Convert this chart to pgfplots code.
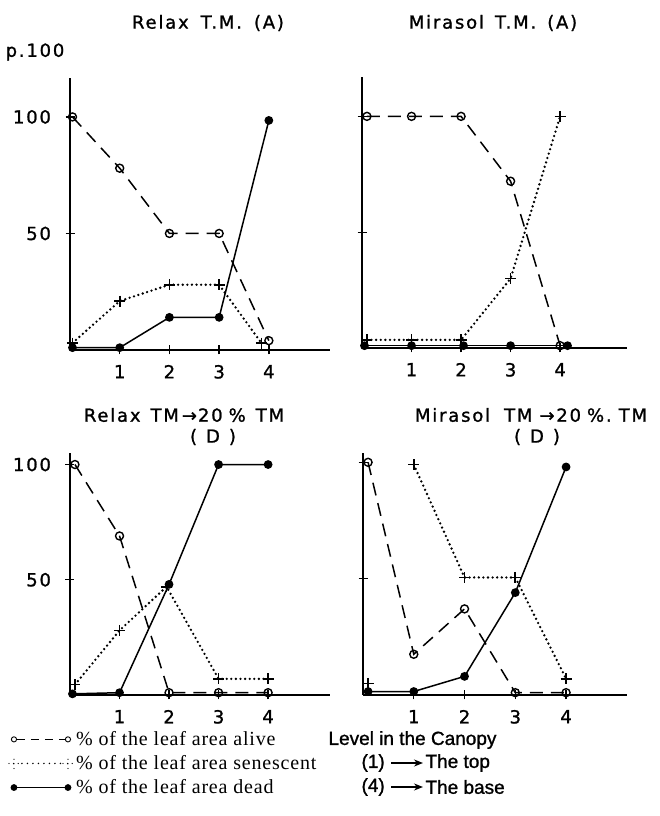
\documentclass[border=0pt]{standalone}
\usepackage{pgfplots}
\pgfplotsset{compat=1.18}
\usetikzlibrary{arrows.meta}
\usepackage{fontspec}
\setmainfont{Liberation Serif}
\newfontfamily\dvLS[LetterSpace=10, FakeBold=1.2]{DejaVu Sans}
\newfontfamily\sfN[FakeBold=1.2]{Liberation Sans}
\newfontfamily\serLS[LetterSpace=4]{Liberation Serif}
\newcommand{\tickfont}{\dvLS\fontsize{18}{21}\selectfont}
\newcommand{\titfont}{\dvLS\fontsize{18}{21}\selectfont}
\newcommand{\rfont}{\sfN\fontsize{19}{22}\selectfont}
\newcommand{\legfont}{\serLS\fontsize{20}{24}\selectfont}

\pgfplotsset{
  panel/.style={
    scale only axis, anchor=south west,
    axis x line=bottom, axis y line=left,
    axis line style={-, line width=2.4pt},
    xmin=0, ymin=0,
    xtick={1,2,3,4}, ytick={50,100},
    tick align=center, major tick length=9pt,
    tick style={line width=1.3pt, black},
    clip=false,
    tick label style={font=\tickfont},
    xticklabel style={yshift=-7pt},
    yticklabel style={xshift=-11pt},
    /pgf/number format/assume math mode=true,
  },
  noylab/.style={yticklabels={{},{}}},
  alive/.style={black, line width=1.5pt, dash pattern=on 13pt off 8pt,
    mark=o, mark size=4pt, mark options={solid, line width=1.4pt, fill=white}},
  sen/.style={black, line width=2.6pt, line cap=round, dash pattern=on 0pt off 4.6pt,
    mark=+, mark size=5.5pt, mark options={solid, line width=1.7pt, line cap=butt}},
  dead/.style={black, line width=1.5pt, solid,
    mark=*, mark size=3.6pt, mark options={solid}},
}

\begin{document}
\begin{tikzpicture}[x=1pt,y=1pt]
\path[use as bounding box] (0pt,0pt) rectangle (659pt,816pt);

% ---------- top left ----------
\begin{axis}[panel, at={(70pt,466pt)}, width=260pt, height=272pt,
  xmax=5.23, ymax=116.7]
\addplot[alive] coordinates {(0.05,100) (1,78) (2,50) (3,50) (4,4)};
\addplot[sen] coordinates {(0.05,3) (1,21) (2,28) (3,28) (3.85,3)};
\addplot[dead] coordinates {(0.05,1) (1,1) (2,14) (3,14) (4,98.5)};
\end{axis}

% ---------- top right ----------
\begin{axis}[panel, noylab, at={(362pt,468pt)}, width=265pt, height=271pt,
  xmax=5.35, ymax=117]
\addplot[alive] coordinates {(0.1,100) (1,100) (2,100) (3,72) (4,1)};
\addplot[sen] coordinates {(0.1,3.5) (1,3.5) (2,3.5) (3,30) (4,100)};
\addplot[dead] coordinates {(0.05,1) (1,1) (2.05,1) (3,1) (4.15,1)};
\end{axis}

% ---------- bottom left ----------
\begin{axis}[panel, at={(70pt,121pt)}, width=260pt, height=242pt,
  xmax=5.25, ymax=105,
  legend style={at={(rel axis cs:-0.238,-0.14)}, anchor=north west,
    draw=none, fill=none, inner sep=0pt, row sep=3.5pt,
    font=\legfont, cells={anchor=west},
    nodes={inner sep=2.5pt}}]
\addplot[alive, legend image code/.code={
   \draw[black, line width=1.1pt, dash pattern=on 8pt off 6pt] (6pt,0pt) -- (54pt,0pt);
   \draw[black, solid, line width=0.9pt] (3pt,0pt) circle (2.6pt);
   \draw[black, solid, line width=0.9pt] (57pt,0pt) circle (2.6pt);}]
  coordinates {(0.1,100) (1,69) (2,1) (3,1) (4,1)};
\addplot[sen, legend image code/.code={
   \draw[black, line width=1.3pt] (-2pt,0pt) -- (8pt,0pt) (3pt,-5pt) -- (3pt,5pt);
   \draw[black, line width=1.3pt] (52pt,0pt) -- (62pt,0pt) (57pt,-5pt) -- (57pt,5pt);
   \draw[black, line width=1.6pt, line cap=round, dash pattern=on 0pt off 5.5pt] (11pt,0pt) -- (50pt,0pt);}]
  coordinates {(0.1,4.5) (1,28) (1.95,47) (3,7) (4,7)};
\addplot[dead, legend image code/.code={
   \draw[black, solid, line width=1.3pt] (3pt,0pt) -- (57pt,0pt);
   \fill[black] (3pt,0pt) circle (2.6pt);
   \fill[black] (57pt,0pt) circle (2.6pt);}]
  coordinates {(0.05,0.5) (1,1) (2,48) (3,100) (4,100)};
\legend{\% of the leaf area alive, \% of the leaf area senescent, \% of the leaf area dead}
\end{axis}

% ---------- bottom right ----------
\begin{axis}[panel, noylab, at={(363pt,121pt)}, width=264pt, height=242pt,
  xmax=5.2, ymax=104]
\addplot[alive] coordinates {(0.1,100) (1,17.5) (2,37) (3,1) (4,1)};
\addplot[sen, only marks] coordinates {(0.1,5)};
\addplot[sen] coordinates {(1,99) (2,50.5) (3,50.5) (4,7)};
\addplot[dead] coordinates {(0.1,1.5) (1,1.5) (2,8) (3,44) (4,98)};
\end{axis}

% ---------- texts ----------
\node[font=\titfont] at (208pt,793pt) {Relax\hspace{12pt}T.M.\hspace{12pt}(A)};
\node[font=\tickfont] at (35pt,764pt) {p.100};
\node[font=\titfont] at (493pt,793pt) {Mirasol\hspace{11pt}T.M.\hspace{11pt}(A)};
\node[font=\titfont] at (184pt,401pt) {Relax\hspace{10pt}TM\hspace{3pt}→\hspace{1pt}20\hspace{6pt}\%\hspace{10pt}TM};
\node[font=\titfont] at (213pt,379pt) {(\hspace{9pt}D\hspace{9pt})};
\node[font=\titfont] at (531pt,401pt) {Mirasol\hspace{14pt}TM\hspace{7pt}→20\hspace{6pt}\%.\hspace{7pt}TM};
\node[font=\titfont] at (537pt,379pt) {(\hspace{9pt}D\hspace{9pt})};
\node[font=\rfont, anchor=west] at (325pt,76pt) {Level in the Canopy};
\node[font=\rfont, anchor=west] at (358pt,53pt) {(1)};
\node[font=\rfont, anchor=west] at (422pt,53pt) {The top};
\node[font=\rfont, anchor=west] at (358pt,29pt) {(4)};
\node[font=\rfont, anchor=west] at (422pt,29pt) {The base};
\draw[line width=1.6pt, -{Stealth[length=9pt, width=7pt]}] (391pt,53pt) -- (423pt,53pt);
\draw[line width=1.6pt, -{Stealth[length=9pt, width=7pt]}] (391pt,29pt) -- (423pt,29pt);
\end{tikzpicture}
\end{document}
